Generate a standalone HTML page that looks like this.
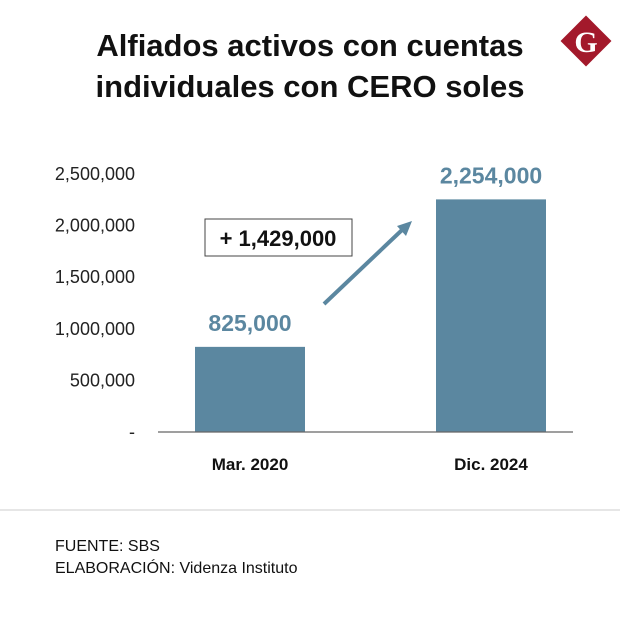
<!DOCTYPE html>
<html><head><meta charset="utf-8"><style>
body{margin:0;background:#fff;font-family:"Liberation Sans",sans-serif;}
</style></head><body>
<svg width="620" height="615" viewBox="0 0 620 615">
<text x="310" y="56" text-anchor="middle" font-size="31" font-weight="bold" fill="#111">Alfiados activos con cuentas</text>
<text x="310" y="97" text-anchor="middle" font-size="31" font-weight="bold" fill="#111">individuales con CERO soles</text>
<g>
<rect x="568" y="23" width="36" height="36" fill="#a3192b" transform="rotate(45 586 41)"/>
<text x="586" y="52" text-anchor="middle" font-family="Liberation Serif,serif" font-weight="bold" font-size="30" fill="#fff">G</text>
</g>
<g id="yaxis"></g>
<g id="bars"></g>
<line x1="158" y1="432" x2="573" y2="432" stroke="#666" stroke-width="1.3"/>
<rect x="205" y="219" width="147" height="37" fill="#fff" stroke="#444" stroke-width="1"/>
<text x="278" y="246" text-anchor="middle" font-size="22" font-weight="bold" fill="#111">+ 1,429,000</text>
<g>
<line x1="324" y1="304" x2="402" y2="230" stroke="#5b87a0" stroke-width="4"/>
<polygon points="412,221 397,226 406,236" fill="#5b87a0"/>
</g>
<line x1="0" y1="510" x2="620" y2="510" stroke="#ccc" stroke-width="1"/>
<text x="55" y="551" font-size="16" fill="#111">FUENTE: SBS</text>
<text x="55" y="573" font-size="16" fill="#111">ELABORACIÓN:  Videnza Instituto</text>
</svg>
<script>
const categories=["Mar. 2020","Dic. 2024"];
const values=[825000,2254000];
const valueLabels=["825,000","2,254,000"];
const ticks=[0,500000,1000000,1500000,2000000,2500000];
const tickLabels=["-","500,000","1,000,000","1,500,000","2,000,000","2,500,000"];
const NS="http://www.w3.org/2000/svg";
const y0=432,pxPer=258/2500000;
function y(v){return y0-v*pxPer;}
const centers=[250,491];
function xc(i){return centers[i];}
const ya=document.getElementById('yaxis'),bg=document.getElementById('bars');
ticks.forEach((t,i)=>{const e=document.createElementNS(NS,'text');
e.setAttribute('x',135);e.setAttribute('y',y(t)+6);e.setAttribute('text-anchor','end');
e.setAttribute('font-size','18');e.setAttribute('fill','#222');e.textContent=tickLabels[i];


ya.appendChild(e);});
values.forEach((v,i)=>{const r=document.createElementNS(NS,'rect');
r.setAttribute('x',xc(i)-55);r.setAttribute('width',110);r.setAttribute('y',y(v));r.setAttribute('height',y0-y(v));r.setAttribute('fill','#5b87a0');


bg.appendChild(r);
const l=document.createElementNS(NS,'text');l.setAttribute('x',xc(i));l.setAttribute('y',y(v)-16);l.setAttribute('text-anchor','middle');
l.setAttribute('font-size','23');l.setAttribute('font-weight','bold');l.setAttribute('fill','#5b87a0');l.textContent=valueLabels[i];


bg.appendChild(l);
const c=document.createElementNS(NS,'text');c.setAttribute('x',xc(i));c.setAttribute('y',470);c.setAttribute('text-anchor','middle');
c.setAttribute('font-size','17');c.setAttribute('font-weight','bold');c.setAttribute('fill','#111');c.textContent=categories[i];


bg.appendChild(c);});
</script>
</body></html>
